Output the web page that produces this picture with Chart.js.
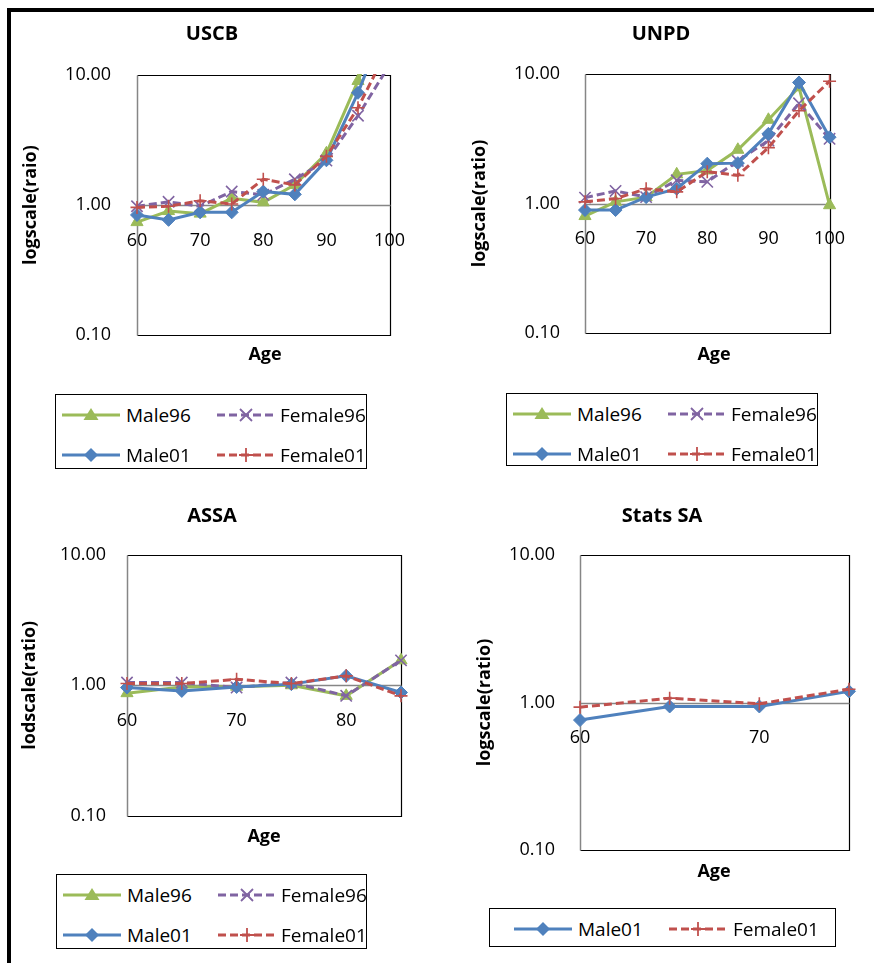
<!DOCTYPE html>
<html><head><meta charset="utf-8">
<script src="https://cdn.jsdelivr.net/npm/chart.js@4.4.1/dist/chart.umd.min.js"></script>
<style>
html,body{margin:0;padding:0;background:#fff;}
body{width:874px;height:963px;position:relative;overflow:hidden;font-family:"Open Sans",sans-serif;color:#000;}
#frame{position:absolute;left:7px;top:8px;width:900px;height:1000px;border-left:4px solid #000;border-top:4px solid #000;}
canvas{position:absolute;}
.ttl{position:absolute;font-weight:bold;font-size:20px;transform:translate(-50%,-50%);white-space:nowrap;line-height:1;}
.age{position:absolute;font-weight:bold;font-size:18px;transform:translate(-50%,-50%);white-space:nowrap;line-height:1;}
.leg{position:absolute;border:1.5px solid #000;box-sizing:border-box;background:#fff;}
.smp{position:absolute;}
.lt{position:absolute;font-size:19px;line-height:1;transform:translateY(-50%);white-space:nowrap;}
</style></head>
<body>
<div id="frame"></div>
<canvas id="c1" width="420" height="360" style="left:10px;top:12px"></canvas>
<canvas id="c2" width="420" height="360" style="left:450px;top:12px"></canvas>
<canvas id="c3" width="420" height="370" style="left:10px;top:490px"></canvas>
<canvas id="c4" width="420" height="400" style="left:450px;top:490px"></canvas>
<div class="ttl" style="left:212px;top:33px">USCB</div>
<div class="ttl" style="left:661px;top:33px">UNPD</div>
<div class="ttl" style="left:212px;top:515px">ASSA</div>
<div class="ttl" style="left:662px;top:515px">Stats SA</div>
<div class="age" style="left:265px;top:353px">Age</div>
<div class="age" style="left:714px;top:353px">Age</div>
<div class="age" style="left:264px;top:835px">Age</div>
<div class="age" style="left:714px;top:870px">Age</div>
<div id="legends"></div>
<script>
// ---- data ----
const agesFull = [60, 65, 70, 75, 80, 85, 90, 95, 100];
const agesASSA = [60, 65, 70, 75, 80, 85];
const agesStats = [60, 65, 70, 75];

const uscbMale96   = [0.74, 0.90, 0.86, 1.13, 1.05, 1.43, 2.50, 9.0, 40];
const uscbFemale96 = [0.98, 1.06, 0.98, 1.27, 1.20, 1.58, 2.20, 4.86, 12];
const uscbMale01   = [0.84, 0.77, 0.88, 0.88, 1.27, 1.21, 2.21, 7.3, 30];
const uscbFemale01 = [0.96, 0.98, 1.08, 1.02, 1.58, 1.43, 2.37, 5.6, 17];

const unpdMale96   = [0.80, 1.03, 1.12, 1.68, 1.80, 2.60, 4.43, 7.9, 0.97];
const unpdFemale96 = [1.11, 1.25, 1.12, 1.51, 1.47, 2.13, 3.07, 5.94, 3.16];
const unpdMale01   = [0.89, 0.89, 1.12, 1.30, 2.03, 2.05, 3.45, 8.6, 3.25];
const unpdFemale01 = [1.03, 1.09, 1.30, 1.23, 1.76, 1.65, 2.70, 5.2, 8.8];

const assaMale96   = [0.87, 0.97, 0.975, 1.00, 0.83, 1.55];
const assaFemale96 = [1.05, 1.05, 0.96, 1.05, 0.83, 1.55];
const assaMale01   = [0.96, 0.905, 0.97, 1.02, 1.18, 0.88];
const assaFemale01 = [1.03, 1.03, 1.11, 1.03, 1.18, 0.83];

const statsMale01   = [0.76, 0.94, 0.94, 1.19];
const statsFemale01 = [0.93, 1.07, 0.98, 1.23];

const yTickValues = [0.1, 1, 10];
const xTicksFull = [60, 70, 80, 90, 100];
const xTicksASSA = [60, 70, 80];
const xTicksStats = [60, 70];

// ---- styles ----
const STY = {
  Male96:   {color:'#9BBB59', point:'triangle', dash:[], order:3, r:7},
  Female96: {color:'#8064A2', point:'crossRot', dash:[8,4], order:2, r:8},
  Male01:   {color:'#4F81BD', point:'rectRot', dash:[], order:1, r:6.5},
  Female01: {color:'#C0504D', point:'cross', dash:[8,4], order:0, r:6.5}
};

const framePlugin = {
  id: 'frame',
  beforeDatasetsDraw(chart) {
    const {ctx, chartArea: a, scales} = chart;
    const L = Math.round(a.left) + 0.5, R = Math.round(a.right) + 0.5;
    const T = Math.round(a.top) + 0.5, B = Math.round(a.bottom) + 0.5;
    ctx.save();
    ctx.lineWidth = 1.2;
    ctx.strokeStyle = '#000';
    ctx.beginPath();
    ctx.moveTo(L, T); ctx.lineTo(R, T); ctx.lineTo(R, B); ctx.lineTo(L, B);
    ctx.stroke();
    ctx.strokeStyle = '#868686';
    ctx.lineWidth = 1.5;
    ctx.beginPath();
    ctx.moveTo(L, T); ctx.lineTo(L, B);
    const y1 = Math.round(scales.y.getPixelForValue(1)) + 0.5;
    ctx.moveTo(L, y1); ctx.lineTo(R, y1);
    ctx.stroke();
    ctx.restore();
  }
};

function makeChart(id, o) {
  const datasets = o.series.map(([name, vals]) => {
    const s = STY[name];
    return {
      label: name,
      data: o.ages.map((a, i) => ({x: a, y: vals[i]})),
      borderColor: s.color,
      backgroundColor: s.color,
      pointBackgroundColor: s.color,
      pointBorderColor: s.color,
      pointStyle: s.point,
      pointRadius: s.r,
      pointBorderWidth: (s.point === 'cross' || s.point === 'crossRot') ? 1.6 : 1,
      borderWidth: 3,
      borderDash: s.dash,
      tension: 0,
      order: s.order,
      clip: {left: 12, top: 1, right: 12, bottom: 12}
    };
  });
  new Chart(document.getElementById(id), {
    type: 'line',
    data: {datasets},
    options: {
      responsive: false,
      animation: false,
      events: [],
      layout: {padding: o.pad},
      plugins: {legend: {display: false}, tooltip: {enabled: false}, title: {display: false}},
      scales: {
        x: {
          type: 'linear',
          position: {y: 1},
          min: o.ages[0], max: o.ages[o.ages.length - 1],
          grid: {display: false, drawTicks: false},
          border: {display: false},
          afterBuildTicks: (sc) => { sc.ticks = o.xTicks.map(v => ({value: v})); },
          ticks: {padding: 25, color: '#000', font: {family: 'Open Sans', size: 18}, maxRotation: 0, autoSkip: false,
                  callback: (v) => String(v)}
        },
        y: {
          type: 'logarithmic',
          min: 0.1, max: 10,
          grid: {display: false, drawTicks: false},
          border: {display: false},
          afterBuildTicks: (sc) => { sc.ticks = yTickValues.map(v => ({value: v})); },
          afterFit: (sc) => { sc.width = o.yW; },
          ticks: {padding: o.tickPad, color: '#000', font: {family: 'Open Sans', size: 18},
                  callback: (v) => Number(v).toFixed(2)},
          title: {display: true, text: o.yTitle, color: '#000',
                  font: {family: 'Open Sans', size: 18, weight: 'bold'},
                  padding: {top: o.titlePad, bottom: 0}}
        }
      }
    },
    plugins: [framePlugin]
  });
}

makeChart('c1', {
  ages: agesFull, xTicks: xTicksFull, yTitle: 'logscale(raio)',
  series: [['Male96', uscbMale96], ['Female96', uscbFemale96], ['Male01', uscbMale01], ['Female01', uscbFemale01]],
  pad: {top: 63, right: 38, bottom: 34, left: 0}, yW: 127, tickPad: 26, titlePad: 10
});
makeChart('c2', {
  ages: agesFull, xTicks: xTicksFull, yTitle: 'logscale(ratio)',
  series: [['Male96', unpdMale96], ['Female96', unpdFemale96], ['Male01', unpdMale01], ['Female01', unpdFemale01]],
  pad: {top: 62, right: 26, bottom: 39, left: 0}, yW: 135, tickPad: 25, titlePad: 19
});
makeChart('c3', {
  ages: agesASSA, xTicks: xTicksASSA, yTitle: 'lodscale(ratio)',
  series: [['Male96', assaMale96], ['Female96', assaFemale96], ['Male01', assaMale01], ['Female01', assaFemale01]],
  pad: {top: 64.5, right: 29, bottom: 44, left: 0}, yW: 117, tickPad: 21, titlePad: 9
});
makeChart('c4', {
  ages: agesStats, xTicks: xTicksStats, yTitle: 'logscale(ratio)',
  series: [['Male01', statsMale01], ['Female01', statsFemale01]],
  pad: {top: 65, right: 21, bottom: 40, left: 0}, yW: 130, tickPad: 25, titlePad: 24
});

// ---- HTML legends ----
function sampleSVG(name) {
  const s = STY[name];
  const c = s.color;
  const dash = s.dash.length ? ` stroke-dasharray="${s.dash.join(' ')}"` : '';
  let m = '';
  if (s.point === 'triangle') m = `<polygon points="29,3 36.5,15 21.5,15" fill="${c}"/>`;
  else if (s.point === 'rectRot') m = `<polygon points="29,3 36,10 29,17 22,10" fill="${c}"/>`;
  else if (s.point === 'crossRot') m = `<path d="M23,4 L35,16 M35,4 L23,16" stroke="${c}" stroke-width="1.8"/>`;
  else m = `<path d="M29,3 L29,17 M22,10 L36,10" stroke="${c}" stroke-width="1.8"/>`;
  return `<svg width="58" height="20" viewBox="0 0 58 20"><line x1="0" y1="10" x2="58" y2="10" stroke="${c}" stroke-width="3"${dash}/>${m}</svg>`;
}
function legend(box, items) {
  const d = document.createElement('div');
  d.className = 'leg';
  d.style.cssText = `left:${box[0]}px;top:${box[1]}px;width:${box[2]}px;height:${box[3]}px`;
  items.forEach(([name, sx, tx, cy]) => {
    const s = document.createElement('div');
    s.className = 'smp';
    s.style.cssText = `left:${sx}px;top:${cy - 10}px`;
    s.innerHTML = sampleSVG(name);
    d.appendChild(s);
    const t = document.createElement('div');
    t.className = 'lt';
    t.style.cssText = `left:${tx}px;top:${cy}px`;
    t.textContent = name;
    d.appendChild(t);
  });
  document.getElementById('legends').appendChild(d);
}
const fourItems = [['Male96', 6, 70, 20], ['Female96', 161, 224, 20], ['Male01', 6, 70, 60], ['Female01', 161, 224, 60]];
legend([55, 394, 312, 75], fourItems);
legend([506, 393, 312, 73], fourItems);
legend([56, 874, 311, 75], fourItems);
legend([489, 908, 347, 39], [['Male01', 24, 88, 20], ['Female01', 179, 243, 20]]);
</script>
</body></html>
